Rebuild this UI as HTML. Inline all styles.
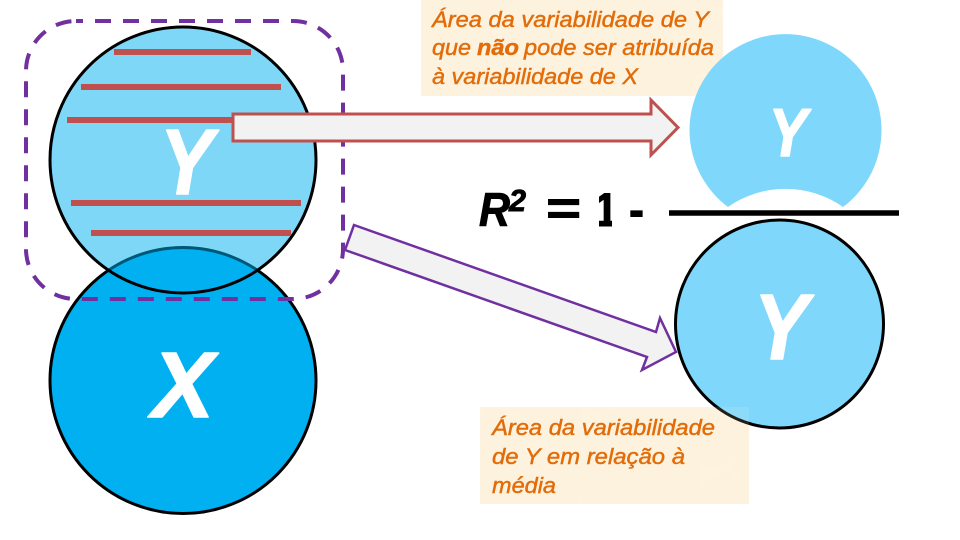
<!DOCTYPE html>
<html lang="pt">
<head>
<meta charset="utf-8">
<title>R² e variabilidade</title>
<style>
  html, body { margin: 0; padding: 0; background: #fff; }
  svg { display: block; }
  text { font-family: "Liberation Sans", sans-serif; font-style: italic; }
  .note { fill: #e36c09; stroke: #e36c09; stroke-width: 0.45px; font-size: 22.5px; }
  .big { fill: #fff; stroke: #fff; stroke-width: 1.6px; stroke-linejoin: round; font-weight: bold; }
  .formula { fill: #000; stroke: #000; stroke-width: 0.9px; font-weight: bold; }
</style>
</head>
<body>
<svg width="960" height="540" viewBox="0 0 960 540" xmlns="http://www.w3.org/2000/svg">
  <defs>
    <filter id="parchment" x="0" y="0" width="100%" height="100%">
      <feTurbulence type="fractalNoise" baseFrequency="0.035" numOctaves="3" seed="4" result="n"/>
      <feColorMatrix in="n" type="matrix" values="0 0 0 0 0.97  0 0 0 0 0.88  0 0 0 0 0.72  1.3 0 0 0 -0.4" result="tint"/>
      <feComposite in="tint" in2="SourceGraphic" operator="in" result="clipped"/>
      <feMerge><feMergeNode in="SourceGraphic"/><feMergeNode in="clipped"/></feMerge>
    </filter>
    <clipPath id="one-clip"><rect x="599" y="185" width="13" height="42"/></clipPath>
  </defs>

  <rect width="960" height="540" fill="#ffffff"/>

  <!-- Note backgrounds -->
  <rect x="421" y="0" width="302" height="96" fill="#fdf3de" filter="url(#parchment)"/>
  <rect x="480" y="407" width="269" height="97" fill="#fdf3de" filter="url(#parchment)"/>

  <!-- Left circles -->
  <circle cx="183" cy="380.5" r="133" fill="#00b0f0" stroke="#000" stroke-width="3"/>
  <circle cx="183" cy="160" r="133" fill="#00b0f0" fill-opacity="0.5"/>
  <circle cx="183" cy="160" r="133" fill="none" stroke="#000" stroke-width="3"/>

  <!-- Hatch lines -->
  <g stroke="#c0504d" stroke-width="6">
    <line x1="114" y1="52" x2="251" y2="52"/>
    <line x1="81" y1="87" x2="281" y2="87"/>
    <line x1="67" y1="120" x2="236" y2="120"/>
    <line x1="71" y1="203" x2="301" y2="203"/>
    <line x1="91" y1="233" x2="291" y2="233"/>
  </g>

  <text class="big" x="160" y="194" font-size="93" textLength="53" lengthAdjust="spacingAndGlyphs">Y</text>
  <text class="big" x="152" y="417" font-size="93" textLength="62" lengthAdjust="spacingAndGlyphs">X</text>

  <!-- Dashed selection -->
  <rect x="26" y="21" width="317" height="278" rx="50" ry="50" fill="none" stroke="#7030a0" stroke-width="4" stroke-dasharray="16 12" stroke-dashoffset="9"/>

  <!-- Arrows -->
  <polygon points="233,114 651,114 651,100 678,127.5 651,155 651,141 233,141" fill="#f2f2f2" stroke="#c0504d" stroke-width="3"/>
  <polygon points="354,225 656,332 660,318 676,352 642,370 647,357 345,250" fill="#f2f2f2" stroke="#7030a0" stroke-width="2.5"/>

  <!-- Numerator shape -->
  <path d="M728,207 A96,96 0 1 1 843,207 A100,100 0 0 0 728,207 Z" fill="#7fd8fb"/>
  <text class="big" x="769" y="156" font-size="68" textLength="38" lengthAdjust="spacingAndGlyphs">Y</text>

  <!-- Denominator -->
  <circle cx="779.5" cy="324" r="104" fill="#7fd8fb" stroke="#000" stroke-width="3"/>
  <text class="big" x="754" y="359" font-size="93" textLength="54" lengthAdjust="spacingAndGlyphs">Y</text>
  <rect x="480" y="407" width="269" height="97" fill="#fdf3de" fill-opacity="0.12"/>

  <!-- Formula -->
  <g>
    <text class="formula" x="479" y="226" font-size="47" textLength="31" lengthAdjust="spacingAndGlyphs">R</text>
    <text class="formula" x="509" y="211" font-size="31" textLength="17" lengthAdjust="spacingAndGlyphs">2</text>
    <text class="formula" x="545" y="224" font-size="47" textLength="35" lengthAdjust="spacingAndGlyphs">=</text>
    <text class="formula" x="594" y="226" font-size="47" textLength="24" lengthAdjust="spacingAndGlyphs" clip-path="url(#one-clip)" style="font-style:normal">1</text>
    <text class="formula" x="629" y="226" font-size="47" textLength="15" lengthAdjust="spacingAndGlyphs" style="font-style:normal">-</text>
  </g>
  <line x1="669" y1="213" x2="899" y2="213" stroke="#000" stroke-width="5.6"/>

  <!-- Top note -->
  <g>
    <text class="note" x="432" y="27" textLength="277" lengthAdjust="spacingAndGlyphs">Área da variabilidade de Y</text>
    <text class="note" x="432" y="55" textLength="39" lengthAdjust="spacingAndGlyphs">que</text>
    <text class="note" x="477" y="55" font-weight="bold" textLength="42" lengthAdjust="spacingAndGlyphs">não</text>
    <text class="note" x="524" y="55" textLength="190" lengthAdjust="spacingAndGlyphs">pode ser atribuída</text>
    <text class="note" x="432" y="84" textLength="206" lengthAdjust="spacingAndGlyphs">à variabilidade de X</text>
  </g>

  <!-- Bottom note -->
  <g>
    <text class="note" x="492" y="435" textLength="223" lengthAdjust="spacingAndGlyphs">Área da variabilidade</text>
    <text class="note" x="492" y="464" textLength="193" lengthAdjust="spacingAndGlyphs">de Y em relação à</text>
    <text class="note" x="492" y="493" textLength="64" lengthAdjust="spacingAndGlyphs">média</text>
  </g>
</svg>
</body>
</html>
